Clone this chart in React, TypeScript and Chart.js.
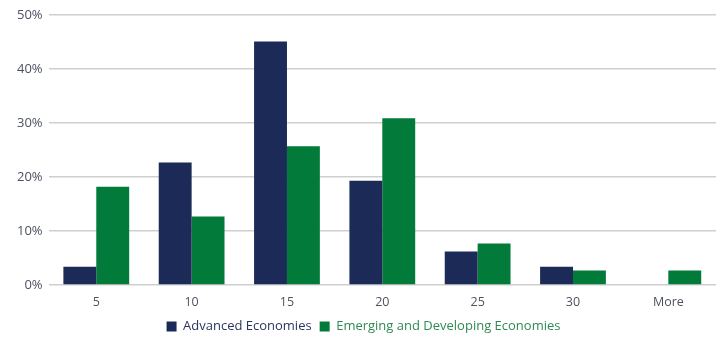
import React, { useEffect, useRef } from "react";
import { Chart, registerables } from "chart.js";

Chart.register(...registerables);

const categories = ["5", "10", "15", "20", "25", "30", "More"];
const advanced = [3.4, 22.7, 45.1, 19.3, 6.2, 3.4, 0];
const emerging = [18.2, 12.7, 25.7, 30.9, 7.7, 2.7, 2.7];
const seriesNames = ["Advanced Economies", "Emerging and Developing Economies"];
const colors = ["#1b2a56", "#017a3a"];
const legendTextColors = ["#2b3560", "#2f8a52"];

export default function App() {
  const ref = useRef<HTMLCanvasElement>(null);
  useEffect(() => {
    document.body.style.margin = "0";
    const ctx = ref.current!;
    const chart = new Chart(ctx, {
      type: "bar",
      data: {
        labels: categories,
        datasets: [
          { label: seriesNames[0], data: advanced, backgroundColor: colors[0], barPercentage: 1, categoryPercentage: 0.69 },
          { label: seriesNames[1], data: emerging, backgroundColor: colors[1], barPercentage: 1, categoryPercentage: 0.69 },
        ],
      },
      options: {
        animation: false,
        responsive: false,
        maintainAspectRatio: false,
        layout: { padding: { top: 15, right: 4, left: 11, bottom: -4 } },
        font: { family: "'Open Sans', sans-serif" },
        plugins: {
          tooltip: { enabled: false },
          legend: {
            position: "bottom",
            labels: {
              boxWidth: 10,
              boxHeight: 10,
              padding: 8,
              font: { family: "'Open Sans', sans-serif", size: 13 },
              generateLabels: (c: any) =>
                c.data.datasets.map((d: any, i: number) => ({
                  text: d.label,
                  fillStyle: colors[i],
                  strokeStyle: colors[i],
                  lineWidth: 0,
                  fontColor: legendTextColors[i],
                  datasetIndex: i,
                  hidden: false,
                })),
            },
          },
        },
        scales: {
          x: {
            grid: { display: false },
            border: { display: false },
            ticks: { color: "#4d5260", font: { family: "'Open Sans', sans-serif", size: 12.5 }, padding: 2 },
          },
          y: {
            min: 0,
            max: 50,
            ticks: {
              stepSize: 10,
              color: "#4d5260",
              padding: 6,
              font: { family: "'Open Sans', sans-serif", size: 13 },
              callback: (v: any) => v + "%",
            },
            grid: { color: "#cfcfcf", lineWidth: 1.5, drawTicks: false },
            border: { display: false },
          },
        },
      },
    });
    return () => chart.destroy();
  }, []);
  return (
    <div style={{ width: 720, height: 339 }}>
      <canvas ref={ref} width={720} height={339} />
    </div>
  );
}
